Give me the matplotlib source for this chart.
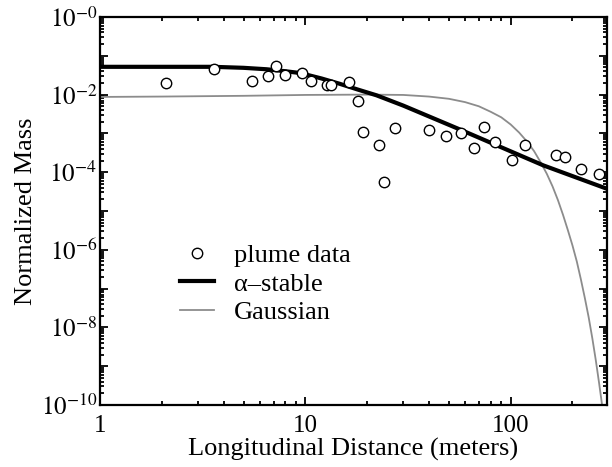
import matplotlib
matplotlib.use("Agg")
import matplotlib.pyplot as plt
from matplotlib.ticker import FixedLocator, FixedFormatter, NullFormatter


# plume measurements (longitudinal distance in m, normalized mass)
PLUME_X = [2.09, 3.59, 5.47, 6.55, 7.17, 7.96, 9.66, 10.7, 12.7, 13.4,
           16.4, 18.0, 19.0, 22.9, 24.3, 27.4, 40.1, 48.7, 57.5, 66.2,
           74.3, 83.8, 101, 117, 166, 184, 219, 270]
PLUME_Y = [0.020, 0.047, 0.0226, 0.0305, 0.054, 0.032, 0.035, 0.0226, 0.018, 0.018,
           0.0205, 0.0067, 0.00107, 4.9e-4, 5.5e-5, 0.0014, 0.0012, 8.4e-4, 0.00103, 4.2e-4,
           0.00144, 5.9e-4, 2.1e-4, 5.1e-4, 2.8e-4, 2.5e-4, 1.18e-4, 8.9e-5]

# alpha-stable fit
STABLE_X = [1.0, 2.0, 3.55, 5.0, 6.47, 8.0, 9.42, 12.0, 14.7, 18.0,
            22.2, 30.0, 55.3, 100, 144.2, 294]
STABLE_Y = [0.052, 0.052, 0.052, 0.049, 0.045, 0.040, 0.036, 0.026, 0.019, 0.0135,
            0.0096, 0.0052, 0.00133, 3.45e-4, 1.5e-4, 3.75e-5]

# Gaussian fit
GAUSS_X = [1, 2, 5, 10, 20, 30, 40, 50, 60, 70, 80, 90, 100, 110, 120,
           130, 140, 150, 160, 170, 180, 190, 200, 210, 220, 230, 240,
           250, 260, 270, 280]
GAUSS_Y = [0.0087, 0.0089, 0.0093, 0.0098, 0.0100, 0.0098, 0.0089, 0.0078, 0.0064,
           0.0050, 0.0036, 0.0026, 0.0017, 1.05e-3, 6.2e-4, 3.5e-4, 1.8e-4, 9.1e-5,
           4.3e-5, 1.9e-5, 7.9e-6, 3.2e-6, 1.3e-6, 5.0e-7, 1.7e-7, 5.6e-8, 1.8e-8,
           5.2e-9, 1.4e-9, 3.5e-10, 8.5e-11]

Y_DECADES = list(range(0, -11, -1))
Y_LABELLED = [0, -2, -4, -6, -8, -10]


def main():
    plt.rcParams["font.family"] = ["Liberation Serif", "DejaVu Serif"]
    plt.rcParams["mathtext.fontset"] = "stix"

    fig = plt.figure(figsize=(6.12, 4.67), dpi=100)
    ax = fig.add_axes([0.1634, 0.1328, 0.8286, 0.8308])

    ax.plot(GAUSS_X, GAUSS_Y, color="#8c8c8c", lw=1.3, label="Gaussian", zorder=2)
    ax.plot(STABLE_X, STABLE_Y, color="black", lw=3, label="\u03b1\u2013stable", zorder=3)
    ax.plot(PLUME_X, PLUME_Y, ls="none", marker="o", ms=7.5, mfc="white",
            mec="black", mew=1.0, label="plume data", zorder=4)

    ax.set_xscale("log")
    ax.set_yscale("log")
    ax.set_xlim(1, 295)
    ax.set_ylim(1e-10, 1)

    # y ticks: every decade, labels on even ones
    major = [10.0 ** d for d in Y_DECADES]
    labels = [r"$10^{-%d}$" % (-d) if d in Y_LABELLED else "" for d in Y_DECADES]
    ax.yaxis.set_major_locator(FixedLocator(major))
    ax.yaxis.set_major_formatter(FixedFormatter(labels))
    minor = [m * 10.0 ** d for d in range(-10, 0) for m in range(2, 10)]
    ax.yaxis.set_minor_locator(FixedLocator(minor))
    ax.yaxis.set_minor_formatter(NullFormatter())

    ax.xaxis.set_major_locator(FixedLocator([1, 10, 100]))
    ax.xaxis.set_major_formatter(FixedFormatter(["1", "10", "100"]))
    xminor = [m * 10.0 ** d for d in range(0, 3) for m in range(2, 10)]
    ax.xaxis.set_minor_locator(FixedLocator(xminor))
    ax.xaxis.set_minor_formatter(NullFormatter())

    ax.tick_params(which="both", direction="in", top=True, right=True,
                   labelsize=18, width=1.3)
    ax.tick_params(which="major", length=6)
    ax.tick_params(which="minor", length=3)
    ax.tick_params(axis="x", which="major", pad=7)
    ax.tick_params(axis="y", which="major", pad=2)
    for spine in ax.spines.values():
        spine.set_linewidth(1.6)

    ax.set_xlabel("Longitudinal Distance (meters)", fontsize=19, labelpad=1)
    ax.set_ylabel("Normalized Mass", fontsize=19, labelpad=3)

    handles, lbls = ax.get_legend_handles_labels()
    order = [2, 1, 0]
    ax.legend([handles[i] for i in order], [lbls[i] for i in order],
              loc="center left", bbox_to_anchor=(0.158, 0.312), frameon=False,
              fontsize=19, handlelength=1.3, handletextpad=0.75,
              labelspacing=0.2, numpoints=1, borderpad=0, borderaxespad=0)

    fig.savefig("out.png", dpi=100)
    plt.close(fig)


if __name__ == "__main__":
    main()
